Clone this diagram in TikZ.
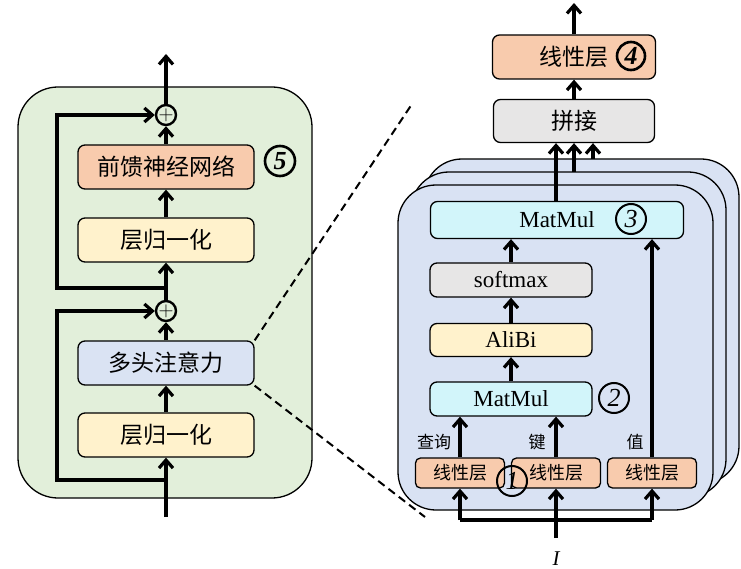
\documentclass[tikz,border=0pt]{standalone}
\usepackage{fontspec}
\setmainfont{Liberation Serif}
\newfontfamily\cjk{Noto Sans CJK SC}
\usetikzlibrary{arrows.meta}

\definecolor{panelgreen}{HTML}{E2EFDA}
\definecolor{headblue}{HTML}{D9E2F3}
\definecolor{salmon}{HTML}{F8CBAD}
\definecolor{normyellow}{HTML}{FFF2CC}
\definecolor{attblue}{HTML}{DAE3F3}
\definecolor{mmcyan}{HTML}{D2F5FA}
\definecolor{catgrey}{HTML}{E7E6E6}

\begin{document}
\begin{tikzpicture}[
    x = 1pt, y = -1pt,
    block/.style={draw, line width=1.3pt, rectangle, rounded corners=7pt, inner sep=0pt, minimum width=176pt, minimum height=44pt, font=\cjk\fontsize{23}{26}\selectfont},
    small/.style={block, minimum width=162pt, minimum height=34pt, font=\fontsize{23}{26}\selectfont},
    linear/.style={block, rounded corners=5pt, minimum width=89pt, minimum height=30pt, font=\cjk\fontsize{18}{20}\selectfont},
    head/.style={draw, line width=1.3pt, fill=headblue, rounded corners=38pt},
    addc/.style={draw, line width=2.4pt, circle, fill=panelgreen, minimum size=20pt, inner sep=0pt, font=\fontsize{20}{20}\selectfont},
    num/.style={draw, line width=2pt, circle, inner sep=0pt, minimum size=30pt, font=\fontsize{26}{26}\selectfont\itshape},
    bignum/.style={num, line width=2.6pt, font=\fontsize{26}{26}\selectfont\bfseries\itshape},
    tag/.style={font=\cjk\fontsize{17}{19}\selectfont, inner sep=0pt},
    arrow/.style={-{Straight Barb[length=8pt,width=14pt]}, line width=3.2pt, color=black},
    line/.style={line width=3.2pt, color=black}
]
    \useasboundingbox (0,0) rectangle (741,569);

    % Decoder layer
    \draw[line width=1.3pt, fill=panelgreen, rounded corners=40pt] (18,87) rectangle (312,498);

    \node (ffn) at (166,167) [block, fill=salmon] {前馈神经网络};
    \node (ln2) at (166,240) [block, fill=normyellow] {层归一化};
    \node (mha) at (166,363) [block, fill=attblue] {多头注意力};
    \node (ln1) at (166,435) [block, fill=normyellow] {层归一化};
    \node (add2) at (166,115) [addc] {$+$};
    \node (add1) at (166,311) [addc] {$+$};
    \node (n5) at (280,161) [bignum] {5};

    \coordinate (inL) at (166,517);
    \coordinate (br1) at (166,480);
    \coordinate (sk1) at (57,480);
    \coordinate (br2) at (166,288);
    \coordinate (sk2) at (57,288);
    \coordinate (outL) at (166,54);

    \draw[arrow] (inL) -- (ln1);
    \draw[arrow] (ln1) -- (mha);
    \draw[arrow] (mha) -- (add1);
    \draw[arrow] (add1) -- (ln2);
    \draw[arrow] (ln2) -- (ffn);
    \draw[arrow] (ffn) -- (add2);
    \draw[arrow] (add2) -- (outL);
    \draw[arrow] (br1) -- (sk1) |- (add1);
    \draw[arrow] (br2) -- (sk2) |- (add2);

    % Zoom lines
    \coordinate (zoomA) at (412,104);
    \coordinate (zoomB) at (425,517);
    \draw[dashed, line width=2pt, dash pattern=on 8pt off 5pt] (mha.north east) -- (zoomA);
    \draw[dashed, line width=2pt, dash pattern=on 8pt off 5pt] (mha.south east) -- (zoomB);

    % Attention heads
    \draw[head] (424,159) rectangle (739,484);
    \draw[head] (411,172) rectangle (726,497);
    \draw[head] (398,185) rectangle (713,510);

    \node (mm2) at (557,220) [small, minimum width=253pt, minimum height=37pt, fill=mmcyan] {MatMul};
    \node (smax) at (511,280) [small, fill=catgrey] {softmax};
    \node (alibi) at (511,340) [small, minimum height=33pt, fill=normyellow] {AliBi};
    \node (mm1) at (511,399) [small, fill=mmcyan] {MatMul};
    \node (linq) at (460,473) [linear, fill=salmon] {线性层};
    \node (link) at (556,473) [linear, fill=salmon] {线性层};
    \node (linv) at (652,473) [linear, fill=salmon] {线性层};
    \node (n3) at (631,219) [num] {3};
    \node (n2) at (614,398) [num] {2};
    \node (n1) at (512,481) [num] {1};
    \node (tq) at (434,442) [tag] {查询};
    \node (tk) at (537,442) [tag] {键};
    \node (tv) at (635,442) [tag] {值};

    \node (concat) at (574,121) [block, minimum width=161pt, minimum height=43pt, fill=catgrey] {拼接};
    \node (proj) at (574,57) [block, minimum width=163pt, minimum height=44pt, fill=salmon] {线性层};
    \node (n4) at (631,56) [bignum, minimum size=28pt] {4};

    \coordinate (inR) at (556,538);
    \coordinate (busQ) at (460,520);
    \coordinate (busV) at (652,520);
    \coordinate (outR) at (574,3);
    \coordinate (h2) at (574,172);
    \coordinate (h3) at (593,159);
    \node (inp) at (556,559) {\fontsize{21}{22}\selectfont\itshape I};

    \draw[arrow] (inR) -- (link);
    \draw[line] (busQ) -- (busV);
    \draw[arrow] (busQ) -- (linq);
    \draw[arrow] (busV) -- (linv);
    \draw[arrow] (linq) -- (linq |- mm1.south);
    \draw[arrow] (link) -- (link |- mm1.south);
    \draw[arrow] (linv) -- (linv |- mm2.south);
    \draw[arrow] (mm1) -- (alibi);
    \draw[arrow] (alibi) -- (smax);
    \draw[arrow] (smax) -- (smax |- mm2.south);
    \draw[arrow] (mm2.north -| link) -- (link |- concat.south);
    \draw[arrow] (h2) -- (h2 |- concat.south);
    \draw[arrow] (h3) -- (h3 |- concat.south);
    \draw[arrow] (concat) -- (proj);
    \draw[arrow] (proj) -- (outR);
\end{tikzpicture}
\end{document}
